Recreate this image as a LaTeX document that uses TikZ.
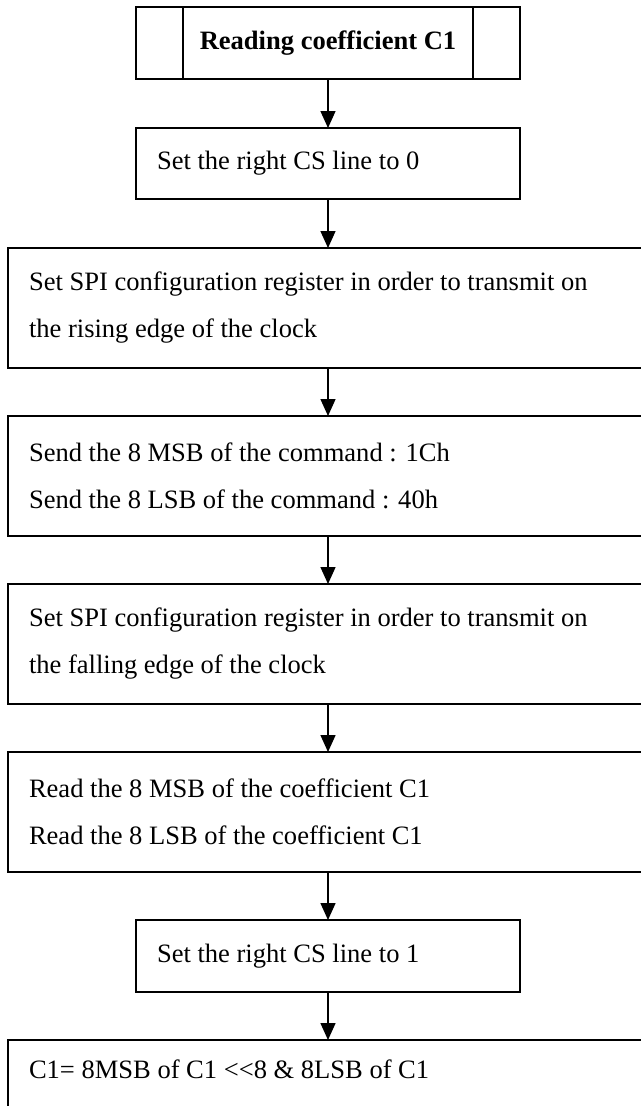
\documentclass[tikz,border=0pt]{standalone}
\usepackage{fontspec}
\setmainfont{Liberation Serif}
\usetikzlibrary{arrows.meta,calc}
\begin{document}
\begin{tikzpicture}[x=0.75pt,y=-0.75pt,
  box/.style={draw,line width=1.5pt,rectangle,outer sep=0pt,inner xsep=15.75pt,inner ysep=0pt,align=flush left,
    font=\fontsize{19.9pt}{35.25pt}\selectfont},
  narrowbox/.style={box,text width=256.5pt,minimum width=288pt},
  widebox/.style={box,text width=457.5pt,minimum width=489pt},
  arr/.style={line width=1.1pt,-{Triangle[length=12.75pt,width=11.25pt]}}]
\useasboundingbox (0,0) rectangle (641,1106);
\clip (0,0) rectangle (641,1106);
\coordinate (ax) at (328,0);
\node[box,align=center,inner xsep=0pt,minimum width=288pt,minimum height=54pt,
  font=\fontsize{19.9pt}{24pt}\selectfont\bfseries] (t) at (328,43) {Reading coefficient C1};
\draw[line width=1.5pt] ([xshift=35.25pt]t.north west) -- ([xshift=35.25pt]t.south west);
\draw[line width=1.5pt] ([xshift=-35.25pt]t.north east) -- ([xshift=-35.25pt]t.south east);
\node[narrowbox,minimum height=53.25pt] (s1) at (328,163.5) {Set the right CS line to 0};
\node[widebox,minimum height=90pt] (s2) at (334,308) {Set SPI configuration register in order to transmit on\\the rising edge of the clock};
\node[widebox,minimum height=90pt] (s3) at (334,476) {Send the 8 MSB of the command : 1Ch\\Send the 8 LSB of the command : 40h};
\node[widebox,minimum height=90pt] (s4) at (334,644) {Set SPI configuration register in order to transmit on\\the falling edge of the clock};
\node[widebox,minimum height=90pt] (s5) at (334,812) {Read the 8 MSB of the coefficient C1\\Read the 8 LSB of the coefficient C1};
\node[narrowbox,minimum height=54pt] (s6) at (328,956) {Set the right CS line to 1};
\node[widebox,minimum height=79.5pt] (s7) at (334,1093) {C1= 8MSB of C1 <\kern0pt<8 \& 8LSB of C1\\\mbox{}};
\foreach \a/\b in {t/s1,s1/s2,s2/s3,s3/s4,s4/s5,s5/s6,s6/s7}
  \draw[arr] (ax |- \a.south) -- (ax |- \b.north);
\end{tikzpicture}
\end{document}
